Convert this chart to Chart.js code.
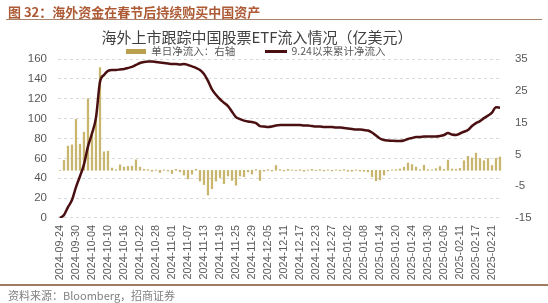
<!DOCTYPE html>
<html><head><meta charset="utf-8">
<script src="https://cdn.jsdelivr.net/npm/chart.js@4.4.1/dist/chart.umd.min.js"></script>
<style>
html,body{margin:0;padding:0;background:#fff;}
#wrap{position:relative;width:548px;height:303px;overflow:hidden;background:#fff;}
#c{position:absolute;left:0;top:0;z-index:1;}
#hdr{position:absolute;left:8px;top:4px;font:bold 13px/16px "Noto Sans CJK SC";color:#AD5A35;z-index:2;white-space:nowrap;}
#hline{position:absolute;left:6px;width:536px;top:19px;height:1px;background:#A8826A;z-index:2;}
#fline{position:absolute;left:0;width:548px;top:284px;height:2px;background:#9E7A60;z-index:2;}
#src{position:absolute;left:8px;top:288px;font:11px/14px "Noto Sans CJK SC";color:#808080;white-space:nowrap;z-index:2;}
</style></head>
<body><div id="wrap">
<canvas id="c" width="548" height="290" style="width:548px;height:290px"></canvas>
<div id="hdr">图 32：海外资金在春节后持续购买中国资产</div>
<div id="hline"></div>
<div id="fline"></div>
<div id="src">资料来源：Bloomberg，招商证券</div>
</div>
<script>
const dates = [
"2024-09-24","2024-09-25","2024-09-26","2024-09-27","2024-09-30",
"2024-10-01","2024-10-02","2024-10-03","2024-10-04","2024-10-07","2024-10-08","2024-10-09","2024-10-10","2024-10-11","2024-10-14","2024-10-15","2024-10-16","2024-10-17","2024-10-18","2024-10-21","2024-10-22","2024-10-23","2024-10-24","2024-10-25","2024-10-28","2024-10-29","2024-10-30","2024-10-31",
"2024-11-01","2024-11-04","2024-11-05","2024-11-06","2024-11-07","2024-11-08","2024-11-11","2024-11-12","2024-11-13","2024-11-14","2024-11-15","2024-11-18","2024-11-19","2024-11-20","2024-11-21","2024-11-22","2024-11-25","2024-11-26","2024-11-27","2024-11-28","2024-11-29",
"2024-12-02","2024-12-03","2024-12-04","2024-12-05","2024-12-06","2024-12-09","2024-12-10","2024-12-11","2024-12-12","2024-12-13","2024-12-16","2024-12-17","2024-12-18","2024-12-19","2024-12-20","2024-12-23","2024-12-24","2024-12-25","2024-12-26","2024-12-27","2024-12-30","2024-12-31",
"2025-01-01","2025-01-02","2025-01-03","2025-01-06","2025-01-07","2025-01-08","2025-01-09","2025-01-10","2025-01-13","2025-01-14","2025-01-15","2025-01-16","2025-01-17","2025-01-20","2025-01-21","2025-01-22","2025-01-23","2025-01-24","2025-01-27","2025-01-28","2025-01-29","2025-01-30","2025-01-31",
"2025-02-03","2025-02-04","2025-02-05","2025-02-06","2025-02-07","2025-02-10","2025-02-11","2025-02-12","2025-02-13","2025-02-14","2025-02-17","2025-02-18","2025-02-19","2025-02-20","2025-02-21","2025-02-24","2025-02-25"
];
// 单日净流入（右轴，亿美元）
const dailyFlow = [
0,3.1,7.6,8.0,16.0,8.2,12.0,22.5,12.0,16.0,
32.3,5.8,6.0,0.7,0.2,1.7,1.0,1.2,1.3,3.3,
1.0,0.3,0.2,-0.3,0.1,-0.7,0.1,-0.2,-1.0,0.3,
-0.5,-1.5,-2.7,-1.2,0.3,-3.4,-4.5,-7.8,-5.8,-3.4,
-2.3,-4.2,-1.8,-3.2,-4.7,-1.8,-2.0,-0.5,-1.2,0.2,
-3.2,-0.3,0.2,-0.2,1.5,0.2,-0.2,0.3,0.1,-0.1,
0.2,-0.3,0.1,0.3,-0.1,0.2,-0.2,0.1,-0.2,0.1,
-0.1,0.2,-0.3,-0.3,0.1,-0.2,-0.3,-0.5,-2.0,-3.3,
-3.0,-1.5,-0.2,0.1,0.2,0.4,1.0,2.3,1.8,1.0,
0.2,1.6,0.2,0.1,0.5,1.2,0.3,3.2,0.4,0.3,
0.6,3.0,4.4,3.9,5.4,3.7,3.0,3.7,1.5,3.8,
4.2
];
// 9.24以来累计净流入（左轴，亿美元）
const cumFlow = [
0,3,11,18,31,42,54,72,85,101,
137,144,148,149,149,149.5,150,151,152,154,
156,157,157.5,157.5,157,156.5,156,155.5,155,155,
154.5,155,154,152.5,151,149,145,138,129.5,124,
119.5,116,112.5,107,101.5,99.5,98,97,96.5,95.5,
92.5,92,91.5,92,93,93.5,93.5,93.5,93.5,93.5,
93.5,93,93,92.5,92,92,91.5,91.5,91.5,91,
91,90.5,90,89.5,89,89,88.5,88,86,83,
80,78.5,78,77.7,77.5,77.5,78,79.5,80.5,81.5,
81.5,82,82,82,82,82.5,83.5,85.5,84,83.5,
85,86.8,88.5,92.5,95.5,97.5,100.5,103,106,111.5,
111
];
const seriesNames = ["单日净流入：右轴", "9.24以来累计净流入"];
const chartTitle = "海外上市跟踪中国股票ETF流入情况（亿美元）";
const xLabelEvery = 4;

// legend swatches (drawn by the legend as point-style images)
function swatch(w, h, color) {
  const cv = document.createElement('canvas'); cv.width = w; cv.height = h;
  const g = cv.getContext('2d'); g.fillStyle = color; g.fillRect(0, 0, w, h); return cv;
}
const barSwatch = swatch(20, 5, '#B9A04F');
const lineSwatch = swatch(22, 3, '#4A0F10');

const TITLE_CX = 257, TITLE_DY = 38, LEG_X = 125, LEG_DY = 7.25;
const placeBoxes = {
  id: 'placeBoxes',
  afterLayout(chart) {
    const t = chart.titleBlock;
    if (t) { const dx = TITLE_CX - (t.left + t.right) / 2; t.left += dx; t.right += dx; t.top += TITLE_DY; t.bottom += TITLE_DY; }
    const l = chart.legend;
    if (l) { const dx = LEG_X - (l.left + l.options.labels.padding); l.left += dx; l.right += dx; l.top += LEG_DY; l.bottom += LEG_DY; }
  }
};

const tickFont = { family: '"Liberation Sans", Arial, sans-serif', size: 11.5 };
new Chart(document.getElementById('c'), {
  type: 'bar',
  data: {
    labels: dates,
    datasets: [
      { type: 'bar', label: seriesNames[0], data: dailyFlow, yAxisID: 'y2', backgroundColor: '#C8B56E', barThickness: 1.6, order: 2 },
      { type: 'line', label: seriesNames[1], data: cumFlow, yAxisID: 'y', borderColor: '#4A0F10', backgroundColor: '#4A0F10', borderWidth: 2.5, pointRadius: 0, cubicInterpolationMode: 'monotone', fill: false, order: 1 }
    ]
  },
  options: {
    responsive: false, animation: false, devicePixelRatio: 1,
    layout: { padding: { top: -9.5, left: 16.8, right: 3.4, bottom: 2.8 } },
    plugins: {
      tooltip: { enabled: false },
      title: { display: true, text: chartTitle, color: '#404040', padding: 0,
        font: { family: '"Noto Sans CJK SC", sans-serif', size: 15, weight: 'normal', lineHeight: 1.2 } },
      legend: { display: true, position: 'top', align: 'start',
        labels: { usePointStyle: true, pointStyleWidth: 21, boxHeight: 5, padding: 30, color: '#595959',
          font: { family: '"Noto Sans CJK SC", sans-serif', size: 10.5 },
          sort: (a, b) => a.datasetIndex - b.datasetIndex,
          generateLabels: (chart) => {
            const items = Chart.defaults.plugins.legend.labels.generateLabels(chart);
            items.forEach(it => {
              it.pointStyle = it.datasetIndex === 0 ? barSwatch : lineSwatch;
              it.lineWidth = 0;
            });
            return items;
          } } }
    },
    scales: {
      x: { offset: true, grid: { display: false, drawTicks: false }, border: { display: false },
        ticks: { autoSkip: false, maxRotation: 90, minRotation: 90, padding: 7, color: '#595959',
          font: { family: '"Liberation Sans", Arial, sans-serif', size: 10.8 },
          callback: (v, i) => (i % xLabelEvery === 0 ? dates[i] : '') } },
      y: { position: 'left', min: 0, max: 160,
        ticks: { stepSize: 20, padding: 11, color: '#595959', font: tickFont },
        grid: { color: '#D9D9D9', lineWidth: 1, drawTicks: false },
        border: { display: false, dash: [3, 3] } },
      y2: { position: 'right', min: -15, max: 35,
        ticks: { stepSize: 5, padding: 13, color: '#595959', font: tickFont },
        grid: { drawTicks: false,
          color: c => (c.tick && c.tick.value === 0 ? '#7F7F7F' : 'rgba(0,0,0,0)'),
          lineWidth: c => (c.tick && c.tick.value === 0 ? 1.5 : 0) },
        border: { display: false } }
    }
  },
  plugins: [placeBoxes]
});
</script>
</body></html>
